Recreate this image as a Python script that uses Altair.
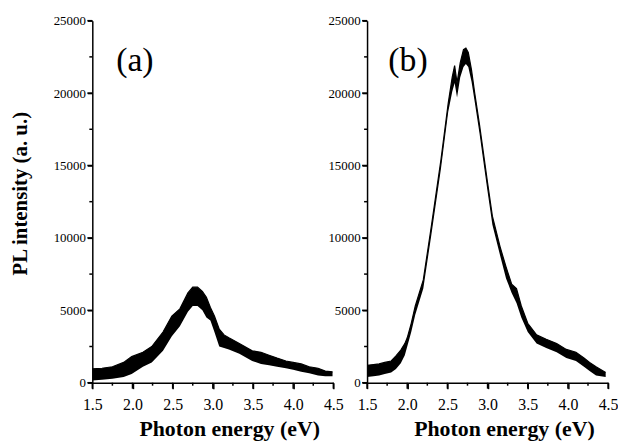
import altair as alt
import pandas as pd

FONT = "Liberation Serif"

# Panel (a): photon energy (eV) and noisy-band lower/upper edge (thousands a.u.)
a_e = [1.50, 1.62, 1.75, 1.89, 1.99, 2.13, 2.24, 2.38, 2.49, 2.59, 2.69, 2.75, 2.81, 2.87, 2.92,
       2.97, 3.02, 3.08, 3.14, 3.20, 3.33, 3.49, 3.60, 3.70, 3.80, 3.91, 4.00, 4.10, 4.20, 4.31, 4.40, 4.49]
a_lo = [0.15, 0.2, 0.27, 0.4, 0.6, 1.1, 1.4, 2.2, 3.2, 3.9, 4.9, 5.3, 5.3, 5.0, 4.5,
        4.3, 3.5, 2.5, 2.4, 2.3, 2.0, 1.5, 1.3, 1.2, 1.1, 1.0, 0.9, 0.75, 0.65, 0.5, 0.45, 0.45]
a_hi = [0.96, 1.0, 1.1, 1.4, 1.8, 2.1, 2.5, 3.5, 4.6, 5.1, 6.2, 6.6, 6.6, 6.3, 5.9,
        5.2, 4.6, 3.7, 3.3, 3.1, 2.7, 2.2, 2.1, 1.9, 1.7, 1.5, 1.4, 1.3, 1.1, 1.0, 0.8, 0.75]

# Panel (b)
b_e = [1.50, 1.58, 1.65, 1.72, 1.80, 1.86, 1.92, 1.97, 2.00, 2.05, 2.10, 2.20, 2.30, 2.42, 2.51,
       2.56, 2.59, 2.62, 2.66, 2.70, 2.73, 2.76, 2.80, 2.84, 2.90, 2.96, 3.00, 3.06, 3.16, 3.23,
       3.30, 3.36, 3.42, 3.50, 3.61, 3.73, 3.86, 3.98, 4.10, 4.20, 4.27, 4.35, 4.47]
b_lo = [0.4, 0.45, 0.5, 0.6, 0.7, 0.95, 1.35, 1.9, 2.5, 3.5, 4.7, 6.5, 10.2, 14.8, 18.7,
        20.1, 20.7, 19.7, 21.1, 21.8, 22.0, 21.8, 20.8, 19.4, 17.2, 14.8, 13.2, 10.9, 8.7, 7.2,
        6.2, 5.5, 4.5, 3.5, 2.7, 2.4, 2.1, 1.7, 1.5, 1.1, 0.8, 0.5, 0.4]
b_hi = [1.2, 1.25, 1.3, 1.4, 1.5, 1.85, 2.25, 2.7, 3.1, 4.1, 5.3, 7.1, 10.8, 15.4, 19.3,
        21.1, 21.9, 20.7, 22.1, 23.0, 23.1, 22.8, 21.6, 20.0, 17.8, 15.4, 13.8, 11.5, 9.3, 8.0,
        6.8, 6.5, 5.3, 4.1, 3.3, 3.0, 2.7, 2.3, 2.1, 1.7, 1.4, 1.1, 0.7]

x_major = [1.5, 2.0, 2.5, 3.0, 3.5, 4.0, 4.5]
x_minor = [1.75, 2.25, 2.75, 3.25, 3.75, 4.25]
y_major = [0, 5000, 10000, 15000, 20000, 25000]
y_minor = [2500, 7500, 12500, 17500, 22500]

panel_labels = ["(a)", "(b)"]
label_x = [2.03, 2.01]
label_y = [22200, 22200]

W, H = 243, 365


def panel(e, lo, hi, label, lx, ly, show_ytitle):
    df = pd.DataFrame({"e": e, "lo": [v * 1000 for v in lo], "hi": [v * 1000 for v in hi]})
    ldf = pd.DataFrame({"x": [lx], "y": [ly], "t": [label]})
    xs = alt.Scale(domain=[1.5, 4.5], nice=False, zero=False)
    ys = alt.Scale(domain=[0, 25000], nice=False)

    xax = alt.Axis(values=x_major, format=".1f",
                   labelFont=FONT, labelFontSize=16, labelColor="black", labelPadding=8,
                   labelFlush=False, labelOverlap=False,
                   tickSize=6, tickWidth=1.5, tickColor="#000000",
                   domainColor="#000000", domainWidth=1.5, grid=False,
                   title="Photon energy (eV)", titleFont=FONT,
                   titleFontSize=22, titleFontWeight="bold", titleColor="black",
                   titlePadding=6, titleX=138)
    ykw = dict(values=y_major, format="d",
               labelFont=FONT, labelFontSize=13, labelColor="black", labelPadding=2,
               labelFlush=False, labelOverlap=False,
               tickSize=5, tickWidth=1.5, tickColor="#000000",
               domainColor="#000000", domainWidth=1.5, grid=False)
    if show_ytitle:
        yax = alt.Axis(title="PL intensity (a. u.)", titleFont=FONT, titleFontSize=21,
                       titleFontWeight="bold", titleColor="black", titleX=-62, titleY=174, **ykw)
    else:
        yax = alt.Axis(title=None, **ykw)

    band = alt.Chart(df).mark_area(color="black", interpolate="linear").encode(
        x=alt.X("e:Q", scale=xs, axis=xax),
        y=alt.Y("lo:Q", scale=ys, axis=yax),
        y2="hi:Q",
    )
    edge = alt.Chart(df).mark_line(color="black", strokeWidth=1.2).encode(
        x=alt.X("e:Q", scale=xs, axis=xax),
        y=alt.Y("hi:Q", scale=ys, axis=yax),
    )
    txt = alt.Chart(ldf).mark_text(font=FONT, fontSize=34, color="black").encode(
        x=alt.X("x:Q", scale=xs, axis=xax),
        y=alt.Y("y:Q", scale=ys, axis=yax),
        text="t:N",
    )

    # tick marks drawn through the shared scales
    def xticks(vals, length):
        return alt.Chart(pd.DataFrame({"v": vals})).mark_rule(color="black", strokeWidth=1.5).encode(
            x=alt.X("v:Q", scale=xs, axis=xax),
            y=alt.value(H), y2=alt.value(H + length))

    def yticks(vals, length):
        return alt.Chart(pd.DataFrame({"v": vals})).mark_rule(color="black", strokeWidth=1.5).encode(
            y=alt.Y("v:Q", scale=ys, axis=yax),
            x=alt.value(0), x2=alt.value(-length))

    return alt.layer(band, edge, txt,
                     xticks(x_major, 6), xticks(x_minor, 3),
                     yticks(y_major, 5), yticks(y_minor, 3)).properties(width=W, height=H)


left = panel(a_e, a_lo, a_hi, panel_labels[0], label_x[0], label_y[0], True)
right = panel(b_e, b_lo, b_hi, panel_labels[1], label_x[1], label_y[1], False)

chart = alt.hconcat(left, right, spacing=34, bounds="flush").properties(
    padding={"left": 2, "top": 5, "right": 0, "bottom": 0},
    background="white",
).configure_view(strokeWidth=0)

chart.save("out.html", embed_options={"renderer": "svg", "actions": False})
